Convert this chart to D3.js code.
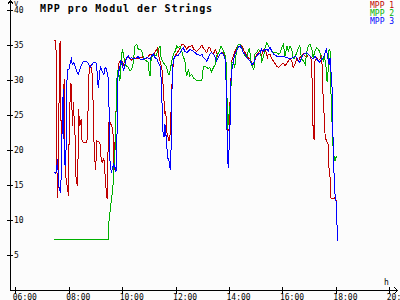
<!DOCTYPE html>
<html lang="de">
<head>
<meta charset="UTF-8">
<title>MPP pro Modul der Strings</title>
<style>
  body { margin: 0; background: #fcfcfc; }
  svg { display: block; background: #fcfcfc; }
  text { font-family: "DejaVu Sans Mono", monospace; font-size: 8px; fill: #000; }
  .titel { font-size: 10px; font-weight: bold; letter-spacing: 0.9px; }
  .linie { fill: none; stroke-width: 1; shape-rendering: crispEdges; }
  .achse line, .pfeil { stroke: #000; fill: none; shape-rendering: crispEdges; }
</style>
<script src="https://cdn.jsdelivr.net/npm/d3@7"></script>
</head>
<body>
<script>
// Messwerte (Uhrzeit, Spannung in V) je MPP-Tracker
const mpp1 = [["07:28",35.6],["07:31",35.6],["07:32",32.7],["07:33",24.6],["07:34",13.2],["07:37",15.4],["07:39",34.4],["07:41",35.6],["07:42",30.1],["07:43",21.1],["07:46",26.0],["07:48",27.7],["07:50",30.1],["07:52",17.2],["07:55",15.4],["07:58",14.4],["07:59",13.4],["08:01",22.5],["08:03",27.2],["08:05",29.6],["08:07",26.3],["08:09",23.4],["08:10",26.8],["08:14",22.5],["08:16",16.3],["08:19",14.9],["08:21",19.1],["08:22",25.8],["08:25",23.4],["08:28",24.4],["08:29",21.5],["08:33",21.1],["08:39",21.1],["08:42",21.5],["08:44",27.7],["08:46",31.8],["08:49",32.0],["08:52",31.5],["08:55",26.3],["08:57",20.6],["09:00",17.2],["09:02",19.1],["09:03",21.3],["09:10",21.1],["09:12",19.1],["09:15",18.2],["09:19",18.8],["09:21",17.0],["09:25",13.4],["09:27",13.0],["09:29",23.9],["09:33",23.9],["09:37",23.4],["09:40",22.0],["09:42",17.2],["09:46",25.3],["09:49",30.6],["09:53",32.5],["09:59",33.0],["10:02",32.0],["10:06",32.7],["10:13",33.4],["10:20",32.8],["10:27",33.2],["10:36",33.0],["10:45",33.3],["10:54",33.0],["11:03",33.7],["11:09",33.5],["11:18",34.4],["11:20",34.6],["11:23",33.2],["11:29",31.8],["11:31",30.3],["11:34",27.0],["11:36",25.1],["11:38",25.6],["11:40",22.7],["11:45",21.3],["11:47",21.5],["11:49",24.1],["11:52",29.5],["11:55",32.7],["11:59",33.5],["12:05",34.0],["12:10",34.6],["12:14",35.1],["12:19",35.0],["12:25",34.4],["12:30",34.8],["12:37",34.9],["12:41",34.4],["12:47",34.1],["12:55",34.6],["12:59",35.0],["13:02",34.6],["13:10",33.9],["13:14",34.6],["13:17",34.6],["13:21",33.9],["13:25",33.7],["13:29",34.4],["13:32",33.9],["13:36",33.2],["13:40",33.7],["13:47",33.9],["13:51",33.4],["13:53",31.8],["13:55",29.4],["13:56",24.6],["13:58",22.7],["14:00",23.0],["14:02",26.5],["14:04",29.4],["14:06",32.7],["14:10",33.5],["14:13",34.0],["14:17",34.6],["14:21",35.1],["14:25",35.1],["14:29",34.9],["14:32",34.4],["14:36",33.9],["14:40",33.4],["14:43",33.2],["14:47",33.0],["14:51",32.5],["14:55",32.2],["14:58",32.7],["15:02",33.7],["15:06",33.9],["15:10",34.1],["15:13",33.4],["15:17",34.4],["15:21",34.4],["15:25",33.7],["15:26",33.0],["15:28",33.7],["15:32",33.7],["15:36",33.0],["15:40",32.7],["15:43",32.4],["15:47",32.0],["15:51",31.8],["15:55",32.0],["15:58",32.2],["16:02",32.4],["16:06",32.0],["16:10",32.4],["16:13",32.7],["16:17",33.0],["16:21",32.7],["16:24",31.8],["16:28",32.2],["16:32",33.0],["16:36",32.7],["16:39",33.2],["16:43",33.4],["16:47",33.7],["16:51",33.4],["16:55",33.2],["16:58",33.7],["17:02",33.4],["17:04",33.0],["17:06",32.2],["17:07",27.5],["17:09",22.7],["17:11",21.5],["17:12",24.6],["17:13",32.7],["17:17",33.2],["17:21",32.7],["17:24",33.0],["17:27",33.4],["17:29",32.2],["17:30",29.4],["17:32",27.0],["17:34",24.6],["17:36",21.8],["17:39",21.3],["17:43",20.8],["17:45",16.5],["17:47",16.1],["17:48",13.2],["17:53",13.0],["17:57",13.2],["17:58",13.0],["18:02",12.7]];

const mpp2 = [["07:28",7.2],["09:29",7.2],["09:30",9.6],["09:35",12.5],["09:39",14.4],["09:41",16.8],["09:44",20.1],["09:46",24.9],["09:48",30.1],["09:51",31.5],["09:55",29.9],["09:59",33.7],["10:01",34.4],["10:04",33.2],["10:09",32.0],["10:14",31.8],["10:18",31.3],["10:21",31.5],["10:24",32.0],["10:29",34.9],["10:33",35.1],["10:36",34.4],["10:42",34.4],["10:45",33.9],["10:49",33.0],["10:55",32.7],["10:59",32.5],["11:01",30.6],["11:03",30.6],["11:05",33.0],["11:10",33.7],["11:16",33.4],["11:21",34.4],["11:25",34.9],["11:27",33.4],["11:30",32.7],["11:32",32.5],["11:36",32.2],["11:40",31.8],["11:44",30.8],["11:46",30.8],["11:51",32.5],["11:55",33.7],["11:59",34.1],["12:03",34.9],["12:06",34.6],["12:10",34.9],["12:14",34.1],["12:17",33.4],["12:21",32.7],["12:23",31.3],["12:25",30.6],["12:29",31.5],["12:32",30.6],["12:36",30.8],["12:40",30.3],["12:44",30.1],["12:47",29.9],["12:59",29.9],["13:01",31.3],["13:04",32.0],["13:10",31.8],["13:14",31.6],["13:17",31.8],["13:21",31.1],["13:25",31.8],["13:29",32.2],["13:32",33.4],["13:38",34.1],["13:42",34.9],["13:46",34.4],["13:49",33.9],["13:53",33.2],["13:55",28.9],["13:57",23.0],["13:59",24.6],["14:02",26.0],["14:04",28.0],["14:06",32.5],["14:10",32.5],["14:13",31.8],["14:17",34.4],["14:21",35.1],["14:25",35.1],["14:29",34.6],["14:32",33.9],["14:36",33.4],["14:40",33.2],["14:43",34.1],["14:46",34.6],["14:49",32.7],["14:52",32.0],["14:56",31.5],["14:58",33.7],["15:02",33.9],["15:06",34.4],["15:11",34.1],["15:13",32.5],["15:17",33.2],["15:21",34.6],["15:25",35.3],["15:28",34.9],["15:32",34.4],["15:40",33.9],["15:47",33.9],["15:51",33.7],["15:55",33.9],["15:58",34.6],["16:02",35.1],["16:06",33.4],["16:10",34.9],["16:13",34.1],["16:17",34.9],["16:21",34.4],["16:24",33.0],["16:28",33.2],["16:32",33.9],["16:36",34.6],["16:39",34.9],["16:43",33.0],["16:47",32.7],["16:51",32.2],["16:53",33.2],["16:56",34.4],["16:58",34.9],["17:02",35.1],["17:06",34.4],["17:09",33.2],["17:13",34.1],["17:17",34.6],["17:21",34.4],["17:24",33.9],["17:28",33.2],["17:32",32.7],["17:34",33.7],["17:36",32.7],["17:38",31.8],["17:40",29.9],["17:42",29.7],["17:43",33.7],["17:45",34.4],["17:47",34.1],["17:48",30.0],["17:51",24.6],["17:53",20.8],["17:54",20.3],["17:56",19.0],["17:58",18.4],["18:00",18.9],["18:02",19.1]];

const mpp3 = [["07:28",16.8],["07:31",16.6],["07:33",17.5],["07:35",18.7],["07:37",15.3],["07:39",14.4],["07:42",13.9],["07:44",19.1],["07:46",25.8],["07:48",28.7],["07:50",18.7],["07:52",17.7],["07:54",20.1],["07:55",29.1],["07:58",31.5],["08:01",31.6],["08:04",32.7],["08:06",33.0],["08:08",32.2],["08:11",32.5],["08:14",32.0],["08:18",31.3],["08:21",30.8],["08:25",31.5],["08:29",32.2],["08:33",32.7],["08:39",32.7],["08:44",32.4],["08:48",31.8],["08:52",32.2],["08:55",32.5],["09:01",32.5],["09:03",31.9],["09:05",29.6],["09:07",28.9],["09:09",31.1],["09:12",31.8],["09:16",31.1],["09:19",30.8],["09:22",31.8],["09:25",31.5],["09:28",30.6],["09:30",28.7],["09:31",23.4],["09:33",17.7],["09:36",16.8],["09:38",17.3],["09:41",18.0],["09:44",17.5],["09:46",16.8],["09:48",19.0],["09:49",26.3],["09:51",31.1],["09:54",31.5],["09:57",32.7],["10:00",32.5],["10:03",31.3],["10:06",32.2],["10:10",33.2],["10:14",33.4],["10:18",33.0],["10:21",33.2],["10:25",33.0],["10:33",33.2],["10:36",33.4],["10:40",33.0],["10:48",33.0],["10:55",33.2],["11:03",33.0],["11:06",33.4],["11:10",33.7],["11:14",33.2],["11:18",33.0],["11:21",32.5],["11:25",32.0],["11:27",30.8],["11:29",28.4],["11:30",25.1],["11:32",22.2],["11:34",21.8],["11:36",23.7],["11:38",22.5],["11:40",20.8],["11:42",18.9],["11:45",18.6],["11:47",17.5],["11:49",17.2],["11:50",21.0],["11:51",27.0],["11:54",32.2],["11:56",33.0],["11:59",33.4],["12:06",33.5],["12:10",33.9],["12:14",34.4],["12:17",34.6],["12:21",34.1],["12:25",33.9],["12:29",34.1],["12:32",34.4],["12:36",34.2],["12:40",34.1],["12:44",33.9],["12:47",33.7],["12:51",33.7],["12:55",33.4],["12:59",33.7],["13:02",33.2],["13:06",33.0],["13:10",32.7],["13:14",33.2],["13:17",33.7],["13:21",33.9],["13:25",33.7],["13:29",33.2],["13:32",32.7],["13:36",33.2],["13:40",33.7],["13:44",33.9],["13:47",33.7],["13:51",33.0],["13:53",30.8],["13:55",24.6],["13:56",21.3],["13:58",17.5],["14:00",19.9],["14:02",22.7],["14:04",29.4],["14:06",31.3],["14:10",32.7],["14:13",33.7],["14:17",34.1],["14:21",34.7],["14:25",34.9],["14:29",34.4],["14:32",33.9],["14:36",33.7],["14:40",33.2],["14:43",33.0],["14:47",32.7],["14:51",32.2],["14:55",32.4],["14:58",33.0],["15:02",33.4],["15:06",33.7],["15:10",33.9],["15:13",34.4],["15:17",34.1],["15:21",34.4],["15:25",34.4],["15:28",34.1],["15:32",34.7],["15:36",34.1],["15:40",33.7],["15:47",33.4],["15:55",33.4],["16:02",33.4],["16:10",33.2],["16:17",33.0],["16:24",33.2],["16:28",33.4],["16:32",33.2],["16:36",32.7],["16:39",32.5],["16:43",33.2],["16:47",33.7],["16:55",33.9],["16:58",33.7],["17:02",33.4],["17:06",33.2],["17:09",33.0],["17:13",33.4],["17:17",33.0],["17:21",32.7],["17:24",32.5],["17:28",33.0],["17:32",33.2],["17:36",33.9],["17:39",34.4],["17:43",32.7],["17:45",32.2],["17:47",33.2],["17:48",31.8],["17:51",29.9],["17:53",24.6],["17:54",19.9],["17:56",16.5],["17:58",13.7],["18:00",13.2],["18:02",10.3],["18:04",7.0]];

const reihen = [mpp1, mpp2, mpp3];
const namen = ["MPP 1", "MPP 2", "MPP 3"];
const farben = ["#c00000", "#00b000", "#0000ff"];
const stunden = [6, 8, 10, 12, 14, 16, 18, 20];
const spannungen = [5, 10, 15, 20, 25, 30, 35, 40];

// "HH:MM" -> Minuten seit Mitternacht
function minuten(s) {
  const t = s.split(":").map(Number);
  return t[0] * 60 + t[1];
}

const breite = 400, hoehe = 300;

const x = d3.scaleLinear().domain([360, 1200]).range([15.3, 389.3]);
const y = d3.scaleLinear().domain([0, 40]).range([290, 10]);

const svg = d3.select("body").append("svg")
    .attr("width", breite)
    .attr("height", hoehe);

// Kurven
const linie = d3.line()
    .x(function(d) { return x(minuten(d[0])); })
    .y(function(d) { return y(d[1]); });

svg.selectAll(".linie")
    .data(reihen)
    .enter()
    .append("path")
    .attr("class", "linie")
    .attr("stroke", function(d, i) { return farben[i]; })
    .attr("d", linie);

// X-Achse
const xAchse = svg.append("g")
    .attr("class", "achse")
    .attr("transform", "translate(0,290)")
    .call(d3.axisBottom(x)
      .tickValues(stunden.map(function(h) { return h * 60; }))
      .tickFormat(function(m) { return d3.format("02d")(m / 60) + ":00"; }));
xAchse.select(".domain").remove();
xAchse.selectAll(".tick line").attr("y1", -3).attr("y2", 4);
xAchse.selectAll(".tick text")
    .attr("y", 10).attr("dy", null).attr("x", -3)
    .attr("text-anchor", "start")
    .attr("font-family", null).attr("font-size", null);

// Y-Achse
const yAchse = svg.append("g")
    .attr("class", "achse")
    .attr("transform", "translate(10,0)")
    .call(d3.axisLeft(y).tickValues(spannungen));
yAchse.select(".domain").remove();
yAchse.selectAll(".tick line").attr("x1", -3).attr("x2", 3);
yAchse.selectAll(".tick text")
    .attr("x", 4).attr("dy", "0.32em")
    .attr("text-anchor", "start")
    .attr("font-family", null).attr("font-size", null);

// Achsenlinien mit Pfeilen
svg.append("path").attr("class", "pfeil")
    .attr("d", "M10.5,291V0.5M8,4L10.5,0.5L13,4");
svg.append("path").attr("class", "pfeil")
    .attr("d", "M10,290.5H397.5M394,287L397.5,290.5L394,294");

svg.append("text").attr("x", 14).attr("y", 6).style("font-size", "7px").text("V");
svg.append("text").attr("x", 384).attr("y", 284.5).text("h");

// Titel
svg.append("text").attr("class", "titel")
    .attr("x", 40).attr("y", 11.5)
    .text("MPP pro Modul der Strings");

// Legende
svg.selectAll(".legende")
    .data(namen)
    .enter()
    .append("text")
    .attr("class", "legende")
    .attr("x", 370)
    .attr("y", function(d, i) { return 7.5 + i * 8; })
    .style("fill", function(d, i) { return farben[i]; })
    .text(function(d) { return d; });
</script>
</body>
</html>
